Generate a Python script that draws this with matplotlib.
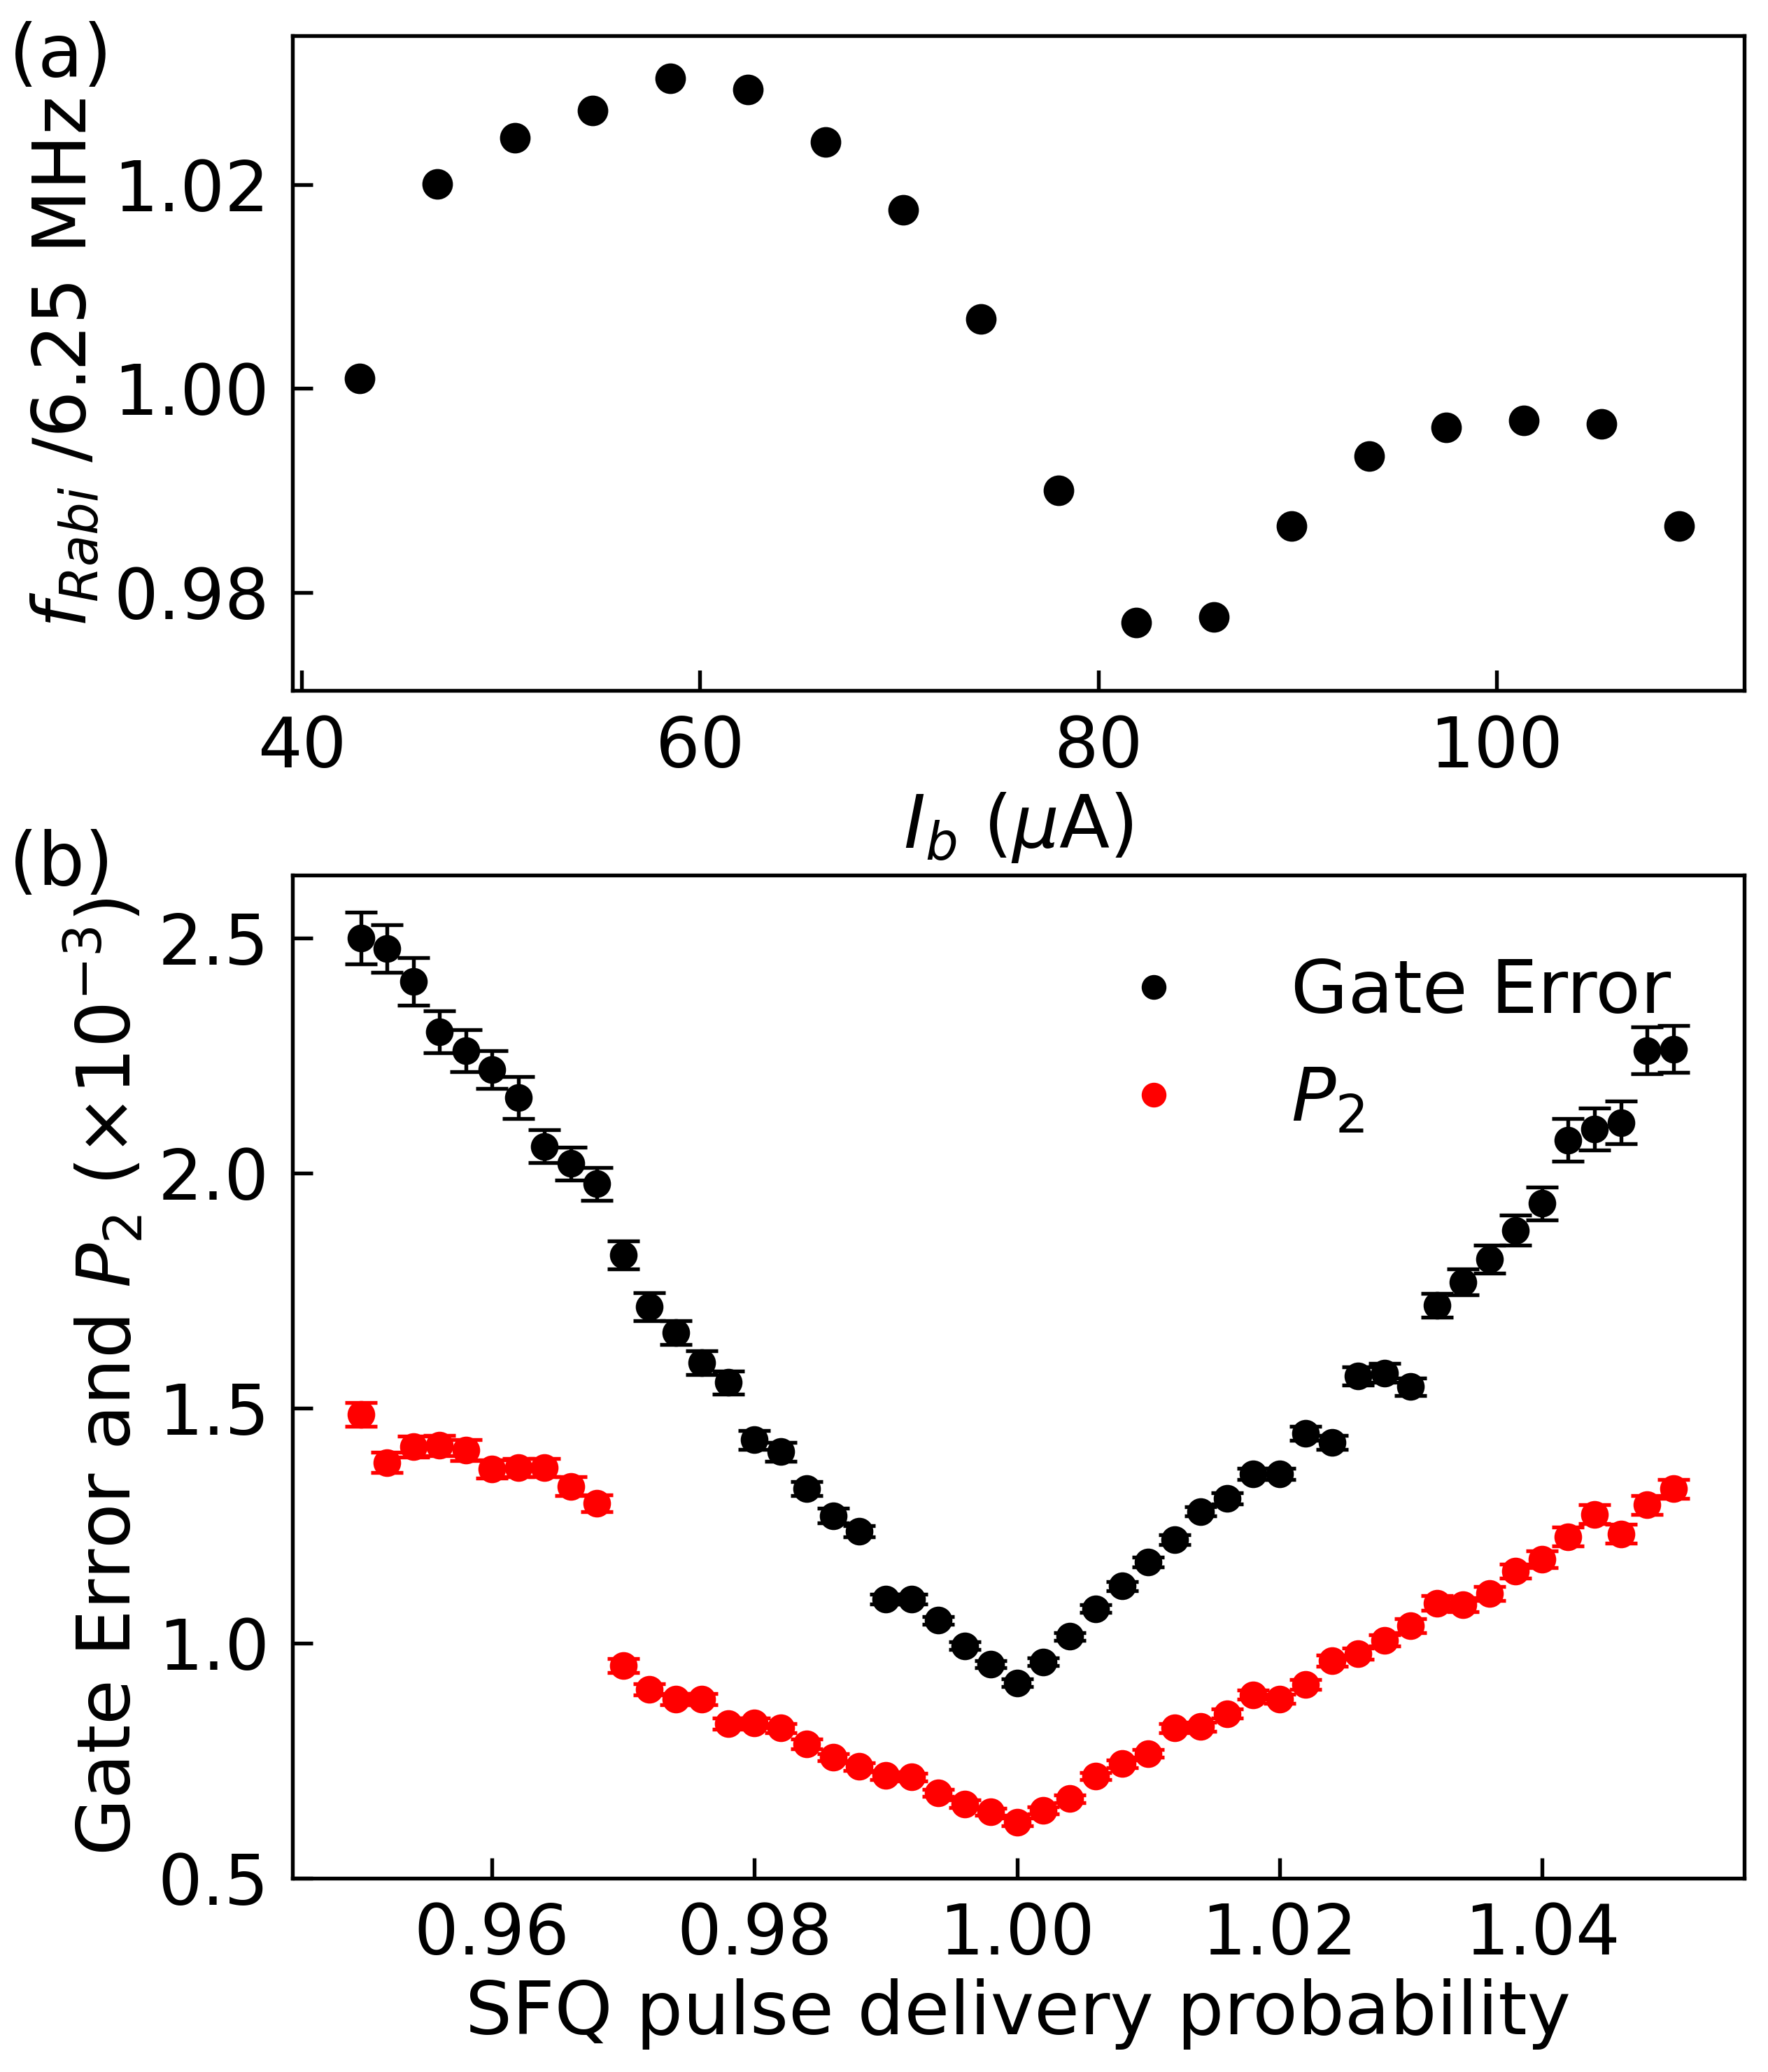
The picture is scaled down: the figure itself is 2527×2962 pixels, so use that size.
import matplotlib
matplotlib.use('Agg')
import matplotlib.pyplot as plt
from matplotlib.lines import Line2D

# panel (a): Rabi frequency vs bias current
ib = [42.9, 46.8, 50.7, 54.6, 58.5, 62.4, 66.3, 70.2, 74.1, 78.0,
      81.9, 85.8, 89.7, 93.6, 97.5, 101.4, 105.3, 109.2]
f_rabi = [1.0010, 1.0201, 1.0246, 1.0273, 1.0304, 1.0293, 1.0242, 1.0175, 1.0068, 0.9900,
          0.9770, 0.9776, 0.9865, 0.9934, 0.9962, 0.9969, 0.9965, 0.9865]

# panel (b): gate error and leakage vs delivery probability
prob = [round(0.95 + 0.002 * i, 3) for i in range(51)]
gate_err = [2.500, 2.477, 2.407, 2.300, 2.260, 2.220, 2.160, 2.056, 2.020, 1.977,
            1.825, 1.715, 1.660, 1.596, 1.554, 1.432, 1.407, 1.328, 1.271, 1.237,
            1.093, 1.093, 1.048, 0.994, 0.955, 0.915, 0.960, 1.014, 1.073, 1.121,
            1.172, 1.220, 1.280, 1.308, 1.359, 1.359, 1.446, 1.427, 1.568, 1.574,
            1.545, 1.718, 1.768, 1.816, 1.878, 1.935, 2.070, 2.093, 2.107, 2.260,
            2.263]
gate_err_sd = [0.055, 0.050, 0.050, 0.045, 0.045, 0.040, 0.045, 0.035, 0.035, 0.035,
               0.030, 0.030, 0.025, 0.025, 0.025, 0.020, 0.020, 0.015, 0.015, 0.012,
               0.010, 0.010, 0.008, 0.008, 0.008, 0.008, 0.008, 0.008, 0.008, 0.010,
               0.010, 0.010, 0.010, 0.012, 0.012, 0.012, 0.015, 0.015, 0.020, 0.020,
               0.018, 0.025, 0.028, 0.030, 0.032, 0.035, 0.045, 0.045, 0.045, 0.050,
               0.050]
p2 = [1.486, 1.384, 1.418, 1.420, 1.410, 1.370, 1.373, 1.373, 1.333, 1.297,
      0.952, 0.901, 0.881, 0.881, 0.828, 0.830, 0.819, 0.785, 0.757, 0.737,
      0.718, 0.715, 0.681, 0.658, 0.641, 0.619, 0.644, 0.669, 0.717, 0.743,
      0.765, 0.819, 0.822, 0.850, 0.890, 0.881, 0.912, 0.963, 0.977, 1.006,
      1.037, 1.085, 1.082, 1.105, 1.153, 1.178, 1.226, 1.274, 1.232, 1.294,
      1.328]
p2_sd = [0.025, 0.022, 0.022, 0.022, 0.022, 0.020, 0.020, 0.020, 0.020, 0.018,
         0.015, 0.012, 0.012, 0.012, 0.012, 0.010, 0.010, 0.010, 0.008, 0.008,
         0.008, 0.008, 0.008, 0.008, 0.008, 0.008, 0.008, 0.008, 0.008, 0.008,
         0.008, 0.010, 0.010, 0.010, 0.010, 0.010, 0.010, 0.012, 0.012, 0.012,
         0.015, 0.015, 0.015, 0.015, 0.015, 0.018, 0.020, 0.020, 0.020, 0.020,
         0.020]

FS = 25.3
TS = 24
plt.rcParams['font.size'] = FS
plt.rcParams['mathtext.fontset'] = 'dejavusans'

fig = plt.figure(figsize=(2527 / 300, 2962 / 300), dpi=300)
ax1 = fig.add_axes([0.1654, 0.6667, 0.8211, 0.3160])
ax2 = fig.add_axes([0.1654, 0.0936, 0.8211, 0.4840])

for ax in (ax1, ax2):
    for sp in ax.spines.values():
        sp.set_linewidth(1.3)
    ax.tick_params(direction='in', length=7, width=1.3, labelsize=TS, pad=8,
                   top=False, right=False)

# (a)
ax1.plot(ib, f_rabi, 'o', color='black', markersize=9.5)
ax1.set_xlim(39.53, 112.45)
ax1.set_ylim(0.97036, 1.0346)
ax1.set_xticks([40, 60, 80, 100])
ax1.set_yticks([0.98, 1.00, 1.02])
ax1.set_xlabel(r'$I_b$ ($\mu$A)', fontsize=FS, labelpad=3)
ax1.set_ylabel(r'$f_{Rabi}$ /6.25 MHz', fontsize=FS)

# (b)
ax2.errorbar(prob, gate_err, yerr=gate_err_sd, fmt='o', color='black',
             markersize=8.5, capsize=5.5, elinewidth=1.3, capthick=1.3)
ax2.errorbar(prob, p2, yerr=p2_sd, fmt='o', color='red',
             markersize=8.5, capsize=5.5, elinewidth=1.3, capthick=1.3)
ax2.set_xlim(0.9448, 1.0554)
ax2.set_ylim(0.5, 2.633)
ax2.set_xticks([0.96, 0.98, 1.00, 1.02, 1.04])
ax2.set_yticks([0.5, 1.0, 1.5, 2.0, 2.5])
ax2.set_xlabel('SFQ pulse delivery probability', fontsize=FS, labelpad=3)
ax2.set_ylabel(r'Gate Error and $P_2$ ($\times10^{-3}$)', fontsize=FS)

handles = [Line2D([], [], ls='none', marker='o', color='black', markersize=7.5),
           Line2D([], [], ls='none', marker='o', color='red', markersize=7.5)]
ax2.legend(handles, ['Gate Error', '$P_2$'], loc='upper right', frameon=False,
           fontsize=FS, handletextpad=0.85, labelspacing=0.5,
           bbox_to_anchor=(0.995, 0.985))

fig.text(0.005, 0.99, '(a)', fontsize=FS, va='top', ha='left')
fig.text(0.005, 0.60, '(b)', fontsize=FS, va='top', ha='left')

fig.savefig('out.png', dpi=300)
